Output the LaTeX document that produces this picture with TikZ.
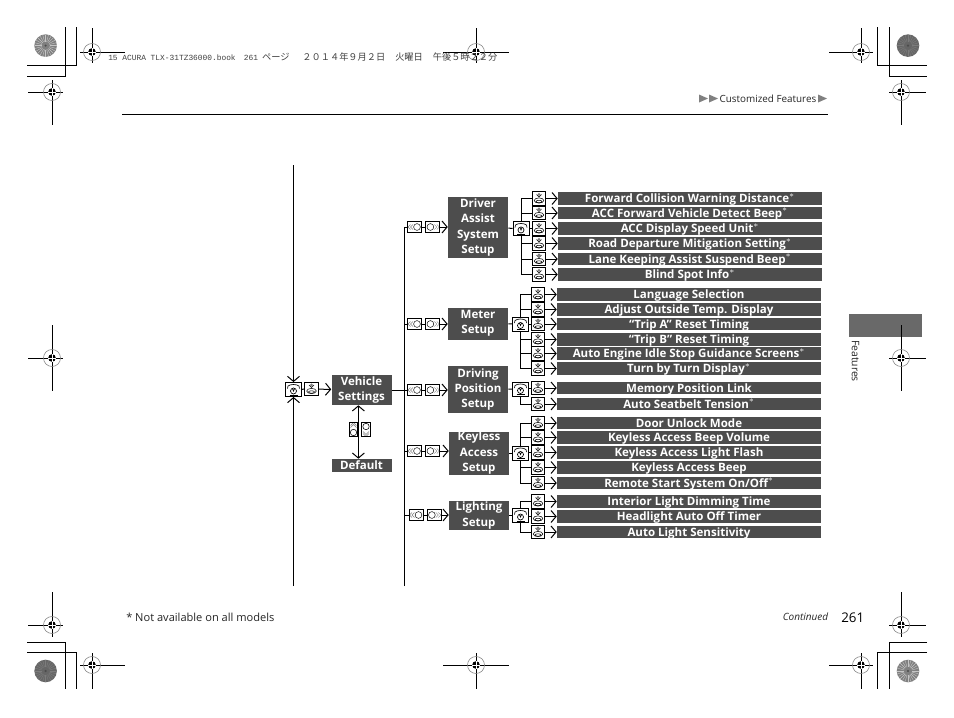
\documentclass[tikz,border=0pt]{standalone}
\usepackage{fontspec}
\setmainfont{Open Sans}
\newfontfamily\monofont{Liberation Mono}
\newfontfamily\cjkfont{Noto Sans CJK JP}
\usepackage{xcolor}
\usetikzlibrary{positioning, arrows.meta, calc}
\pgfdeclarelayer{bg}
\pgfsetlayers{bg,main}
\definecolor{barcol}{RGB}{77,77,77}
\definecolor{tabcol}{RGB}{105,105,105}
\tikzset{
	bar/.style={fill=barcol, text=white, font=\fontsize{8.65pt}{9pt}\selectfont\bfseries, inner sep=0pt, minimum width=198pt, minimum height=9.6pt, text height=7.5pt, text depth=1.5pt},
	menubox/.style={fill=barcol, text=white, font=\fontsize{8.65pt}{11.6pt}\selectfont\bfseries, inner sep=0pt, minimum width=45pt, align=center},
	icon/.style={draw, fill=white, line width=0.7pt, inner sep=0pt},
	pushicon/.style={icon, minimum size=10.2pt, path picture={
		\begin{scope}[shift={(path picture bounding box.center)}, line width=0.4pt]
			\draw (-2.5,-4) -- (0,-1.5) -- (2.5,-4);
			\fill[gray] (0,-4) circle (1.6);
			\draw (0,2) ellipse (4.8 and 2.6);
			\draw (0,3) ellipse (3 and 1.2);
		\end{scope}}},
	dialicon/.style={icon, minimum width=12pt, minimum height=10.5pt, path picture={
		\begin{scope}[shift={(path picture bounding box.center)}, line width=0.5pt]
			\draw (0,1.5) circle (3);
			\draw (-1.2,-1) -- (0,1.5) -- (1.2,-1);
			\draw (-6,-1) -- (-5.5,-3.5) .. controls (-3,-5.5) and (3,-5.5) .. (5.5,-3.5) -- (6,-1);
			\draw (-4,5.5) -- (4,5.5);
		\end{scope}}},
	lefticon/.style={icon, minimum width=10.5pt, minimum height=8pt, path picture={
		\begin{scope}[shift={(path picture bounding box.center)}, line width=0.35pt]
			\draw (2.5,0) circle (3.4);
			\draw[gray] (-1.5,-2.5) -- (-4,0) -- (-1.5,2.5) (-4,-2.5) -- (-6.5,0) -- (-4,2.5);
		\end{scope}}},
	righticon/.style={icon, minimum width=10.5pt, minimum height=8pt, path picture={
		\begin{scope}[shift={(path picture bounding box.center)}, line width=0.35pt]
			\draw (-2.5,0) circle (3.4);
			\draw[gray] (1.5,-2.5) -- (4,0) -- (1.5,2.5) (4,-2.5) -- (6.5,0) -- (4,2.5);
		\end{scope}}},
	upicon/.style={icon, minimum width=6.6pt, minimum height=11pt, path picture={
		\begin{scope}[shift={(path picture bounding box.center)}, line width=0.4pt]
			\draw (0,3) circle (3.2);
			\draw[gray] (-3,-2) -- (0,-5) -- (3,-2) (-3,-4) -- (0,-7) -- (3,-4);
		\end{scope}}},
	downicon/.style={icon, minimum width=6.6pt, minimum height=11pt, path picture={
		\begin{scope}[shift={(path picture bounding box.center)}, line width=0.4pt]
			\draw (0,-3) circle (3.2);
			\draw[gray] (-3,2) -- (0,5) -- (3,2) (-3,4) -- (0,7) -- (3,4);
		\end{scope}}},
	conn/.style={line width=0.75pt},
	arr/.style={conn, -{Straight Barb[length=3.8pt, width=9pt]}},
	crop/.style={line width=0.75pt},
}
% registration mark: centre, then half lengths
\newcommand{\regmark}[6]{
	\draw[crop] (#1-#3,#2) -- (#1+#4,#2) (#1,#2-#5) -- (#1,#2+#6);
	\draw[line width=0.4pt, gray] (#1,#2) circle (8.5);
	\fill (#1,#2) circle (3.8);
	\draw[white, line width=0.5pt] (#1-4,#2) -- (#1+4,#2) (#1,#2-4) -- (#1,#2+4);
}
\newcommand{\swirl}[4]{
	\fill[gray!#3!black] (#1,#2) circle (11.3);
	\foreach \ang in {0,15,...,345}
		\draw[white, opacity=#4, line width=0.3pt] (#1,#2) ++(\ang:4) -- ++(\ang:7);
	\fill[black!70] (#1,#2) circle (1.2);
}
\begin{document}
\begin{tikzpicture}[x=0.75pt, y=-0.75pt]
	\begin{pgfonlayer}{bg}
		\useasboundingbox[fill=white] (0,0) rectangle (954,718);
	\end{pgfonlayer}

	% printer marks
	\swirl{45.6}{45.6}{100}{0.55}
	\swirl{908}{45.6}{80}{0.15}
	\swirl{45.6}{671}{80}{0.15}
	\swirl{908}{671}{100}{0.55}
	\draw[crop] (65,27) -- (65,76) -- (27,76) (76,27) -- (76,65) -- (27,65);
	\draw[crop] (877,27) -- (877,65) -- (927,65) (889,27) -- (889,76) -- (927,76);
	\draw[crop] (27,642) -- (65,642) -- (65,689) (27,652) -- (76,652) -- (76,689);
	\draw[crop] (927,642) -- (889,642) -- (889,689) (927,652) -- (877,652) -- (877,689);
	\regmark{92}{52}{12}{33}{24}{11}
	\regmark{52}{92}{24}{11}{12}{33}
	\regmark{861}{52}{32}{12}{24}{11}
	\regmark{901}{92}{12}{25}{12}{33}
	\regmark{52}{625}{24}{11}{33}{12}
	\regmark{92}{665}{12}{33}{12}{24}
	\regmark{901}{625}{12}{25}{33}{12}
	\regmark{861}{665}{32}{12}{12}{24}
	\regmark{476}{52}{33}{33}{24}{11}
	\regmark{476}{665}{33}{33}{12}{24}
	\regmark{52}{358}{24}{11}{33}{33}

	% header
	\node[anchor=west, inner sep=0pt, text=black!75, font=\monofont\fontsize{5.9pt}{7pt}\selectfont] (book) at (108,57) {15 ACURA TLX-31TZ36000.book\hspace{6.2pt}261\hspace{3pt}{\cjkfont\fontsize{6.9pt}{7pt}\selectfont ページ\hspace{9.7pt}２０１４年９月２日\hspace{7.5pt}火曜日\hspace{7.5pt}午後５時２２分}};
	\node[anchor=east, inner sep=0pt, font=\fontsize{7.4pt}{8pt}\selectfont, text=black!85] (head) at (816.5,98.5) {Customized Features};
	\fill[black!50] (699,94.5) -- (708,98.5) -- (699,102.5) -- cycle (709,94.5) -- (718,98.5) -- (709,102.5) -- cycle (818,94.5) -- (827,98.5) -- (818,102.5) -- cycle;
	\draw[conn] (122,114.5) -- (828,114.5);

	% side tab
	\fill[tabcol] (849,314) rectangle (922,337);
	\regmark{901}{358}{12}{25}{33}{33}
	\node[rotate=-90, inner sep=0pt, font=\fontsize{7.8pt}{8pt}\selectfont, text=black!85] (tab) at (855.5,361) {Features};

	% footer
	\node[anchor=west, inner sep=0pt, font=\fontsize{8.3pt}{10pt}\selectfont, text=black!85] (note) at (126,617) {* Not available on all models};
	\node[anchor=west, inner sep=0pt, font=\fontsize{7.5pt}{8pt}\selectfont\itshape, text=black!85] (cont) at (782.5,617) {Continued};
	\node[anchor=west, inner sep=0pt, font=\fontsize{10pt}{12pt}\selectfont] (page) at (841,618) {261};

	% main trunks
	\coordinate (lefttop) at (293.5,165);
	\coordinate (leftbot) at (293.5,586);
	\coordinate (trunkbot) at (404.5,586);

	\node[menubox, minimum height=22.5pt] (vehicle) at (361.5,390) {Vehicle\\Settings};
	\node[menubox, minimum height=9.8pt, font=\fontsize{8.65pt}{9pt}\selectfont\bfseries] (default) at (361.5,465.5) {Default};
	\node[dialicon] (home) at (293.5,389.5) {};
	\node[pushicon] (homepush) at (311.5,389) {};
	\draw[arr] (lefttop) -- (home);
	\draw[arr] (leftbot) -- (home);
	\draw[conn] (home) -- (homepush);
	\draw[arr] (homepush) -- (vehicle);
	\node[upicon] (upkey) at (353.5,429.5) {};
	\node[downicon] (downkey) at (366,429.5) {};
	\draw[conn, {Straight Barb[length=3.8pt, width=9pt]}-{Straight Barb[length=3.8pt, width=9pt]}] (vehicle.south -| upkey.east) -- (default.north -| upkey.east);

	% menu groups: y, name, height, x, text
	\foreach \yy/\nm/\hh/\xx/\txt in {
		227.5/drv/45.75/478/{Driver\\Assist\\System\\Setup},
		323.5/mtr/24/478/{Meter\\Setup},
		389.5/pos/35.25/478/{Driving\\Position\\Setup},
		453/key/32.25/479/{Keyless\\Access\\Setup},
		515.5/lgt/21.75/479/{Lighting\\Setup}}{
		\node[menubox, minimum height=\hh pt] (\nm) at (\xx,\yy) {\txt};
	}
	\coordinate (tkcorner) at (404.5,227);
	\draw[conn] (trunkbot) -- (tkcorner);
	\draw[conn] (vehicle) -- (vehicle -| trunkbot);

	% branches from trunk
	\foreach \nm/\yy/\xl in {drv/227/414.5, mtr/324/414.5, pos/390/414.5, key/451/414.5, lgt/515/416}{
		\node[lefticon] (\nm l) at (\xl,\yy) {};
		\node[righticon, right=2.6pt of \nm l] (\nm r) {};
		\draw[conn] (404.5,\yy) -- (\nm l);
		\draw[conn] (\nm l) -- (\nm r);
		\draw[arr] (\nm r) -- (\nm r -| \nm.west);
	}

	% dials
	\foreach \nm/\xx/\yy in {drv/521/228.5, mtr/520.5/324, pos/520.5/389, key/520.5/453, lgt/520.5/515.5}{
		\node[dialicon] (\nm dial) at (\xx,\yy) {};
		\draw[conn] (\nm) -- (\nm dial);
	}

	% settings rows: y, icon x, bar x, dial, name, text
	\foreach \yy/\xi/\xb/\up/\nm/\txt in {
		198.5/539/690/drv/drva/{Forward Collision Warning Distance$^*$},
		213/539/690/drv/drvb/{ACC Forward Vehicle Detect Beep$^*$},
		228.5/539/690/drv/drvc/{ACC Display Speed Unit$^*$},
		243.5/539/690/drv/drvd/{Road Departure Mitigation Setting$^*$},
		259/539/690/drv/drve/{Lane Keeping Assist Suspend Beep$^*$},
		274.5/539/690/drv/drvf/{Blind Spot Info$^*$},
		294.5/538/689/mtr/mtra/{Language Selection},
		309.5/538/689/mtr/mtrb/{Adjust Outside Temp. Display},
		324/538/689/mtr/mtrc/{“Trip A” Reset Timing},
		339.5/538/689/mtr/mtrd/{“Trip B” Reset Timing},
		353.5/538/689/mtr/mtre/{Auto Engine Idle Stop Guidance Screens$^*$},
		368.5/538/689/mtr/mtrf/{Turn by Turn Display$^*$},
		388/538/689/pos/posa/{Memory Position Link},
		404/538/689/pos/posb/{Auto Seatbelt Tension$^*$},
		423/538/689/key/keya/{Door Unlock Mode},
		437.5/538/689/key/keyb/{Keyless Access Beep Volume},
		452.5/538/689/key/keyc/{Keyless Access Light Flash},
		467.5/538/689/key/keyd/{Keyless Access Beep},
		483/538/689/key/keye/{Remote Start System On/Off$^*$},
		501.5/538/689/lgt/lgta/{Interior Light Dimming Time},
		516.5/538/689/lgt/lgtb/{Headlight Auto Off Timer},
		532/538/689/lgt/lgtc/{Auto Light Sensitivity}}{
		\node[bar] (\nm bar) at (\xb,\yy) {\txt};
		\node[pushicon] (\nm) at (\xi,\yy) {};
		\begin{pgfonlayer}{bg}
			\draw[conn] (\up dial.center) |- (\nm.center);
		\end{pgfonlayer}
		\draw[arr] (\nm) -- (\nm bar);
	}
\end{tikzpicture}
\end{document}
